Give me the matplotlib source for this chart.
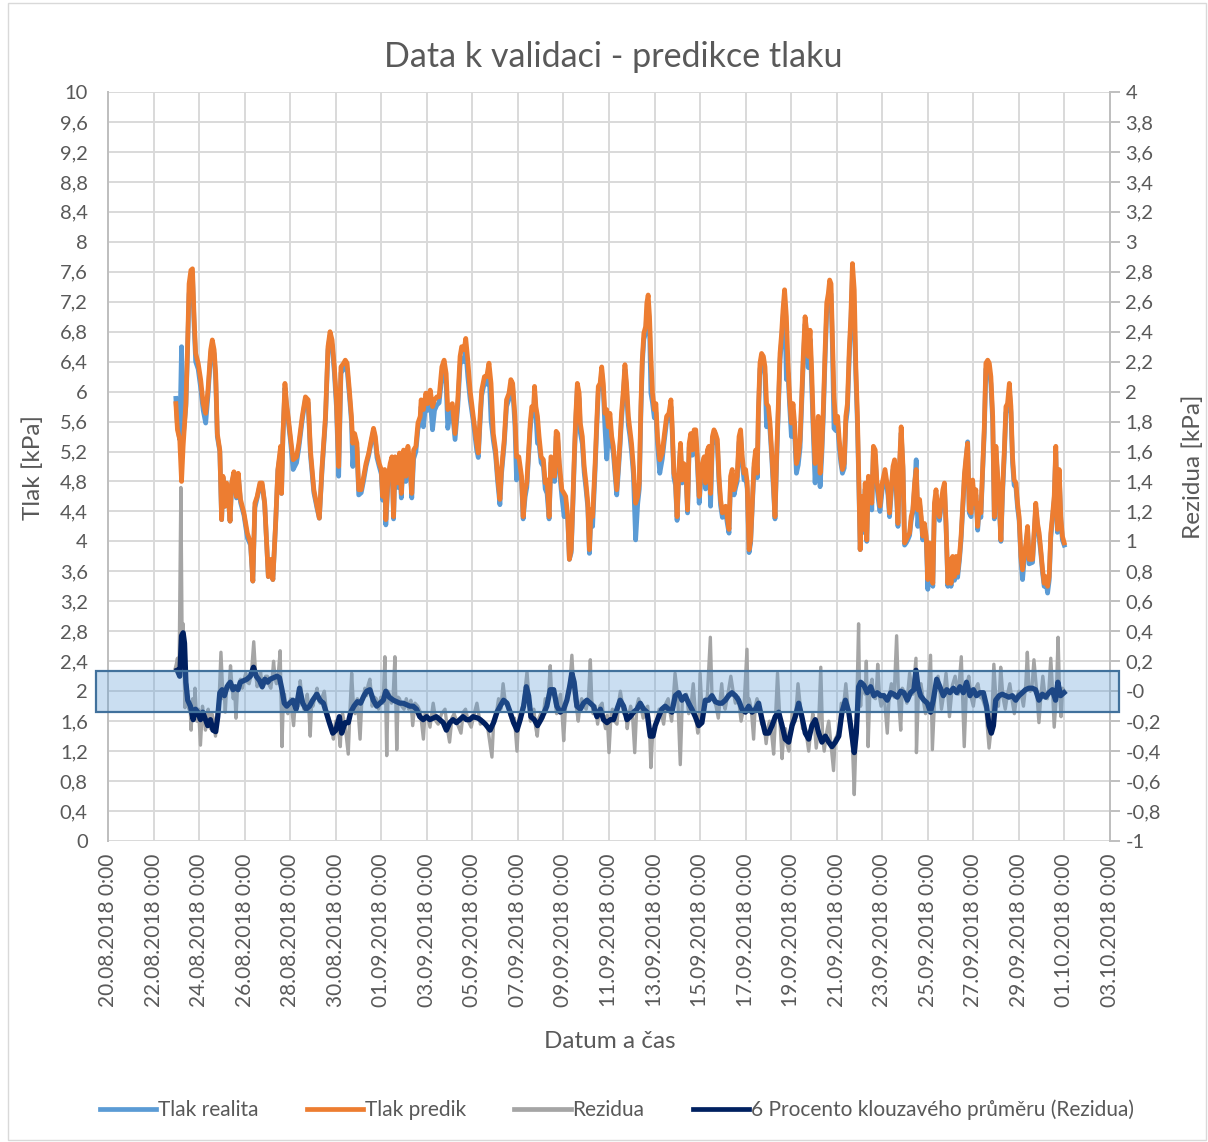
import numpy as np
import pandas as pd
import matplotlib
matplotlib.use("Agg")
import matplotlib.pyplot as plt
from matplotlib.patches import Rectangle
from matplotlib.lines import Line2D

plt.rcParams['font.family'] = ['Lato', 'DejaVu Sans']

START = pd.Timestamp('2018-08-20')

# cas ve dnech od 20.08.2018 0:00
dny_tlak = [
    2.98, 3.05, 3.15, 3.23, 3.30, 3.42, 3.49, 3.56, 3.64, 3.71, 3.78, 3.85, 3.96, 4.07, 4.18, 4.29,
    4.39, 4.51, 4.58, 4.66, 4.73, 4.80, 4.91, 4.99, 5.05, 5.14, 5.21, 5.28, 5.36, 5.43, 5.53, 5.64,
    5.72, 5.82, 5.97, 6.12, 6.26, 6.36, 6.45, 6.55, 6.67, 6.77, 6.88, 6.96, 7.04, 7.14, 7.24, 7.36,
    7.46, 7.58, 7.62, 7.68, 7.77, 7.84, 7.91, 8.01, 8.13, 8.28, 8.38, 8.53, 8.67, 8.79, 8.89, 9.04,
    9.18, 9.28, 9.40, 9.55, 9.66, 9.75, 9.84, 9.94, 10.03, 10.13, 10.23, 10.35,
    10.42, 10.50, 10.60, 10.69, 10.75, 10.83, 10.93, 11.01, 11.12, 11.23, 11.33, 11.45, 11.56, 11.66,
    11.74, 11.81, 11.91, 12.00, 12.06, 12.15, 12.20, 12.29, 12.39, 12.47, 12.54, 12.61, 12.72, 12.80,
    12.88, 12.98, 13.08, 13.17, 13.27, 13.34, 13.42, 13.52, 13.61, 13.71, 13.75, 13.85, 13.96, 14.04,
    14.15, 14.25, 14.34, 14.44, 14.54, 14.66, 14.76, 14.85, 14.92, 15.02, 15.12, 15.24, 15.36, 15.46,
    15.53, 15.64, 15.71, 15.80, 15.90, 16.04, 16.19, 16.26, 16.34, 16.41, 16.53, 16.63, 16.73, 16.82,
    16.92, 17.02, 17.11, 17.21, 17.28, 17.40, 17.50, 17.61, 17.69, 17.77, 17.87, 17.94, 18.04, 18.16,
    18.23,
    18.32, 18.39, 18.47, 18.54, 18.61, 18.69, 18.73, 18.79, 18.86, 18.93, 19.02, 19.12, 19.20, 19.28,
    19.37, 19.45, 19.52, 19.61, 19.68, 19.75, 19.82, 19.93, 20.03, 20.10, 20.19, 20.26, 20.34, 20.41,
    20.48, 20.54, 20.61, 20.69, 20.74, 20.83, 20.91, 20.99, 21.07, 21.14, 21.21, 21.28, 21.39, 21.46,
    21.53, 21.61, 21.68, 21.75, 21.82, 21.90, 21.97, 22.04, 22.12, 22.19, 22.26, 22.34, 22.41, 22.48,
    22.55, 22.63, 22.70, 22.77, 22.85, 22.92, 22.99, 23.07, 23.17, 23.26, 23.33, 23.40, 23.46, 23.53,
    23.61, 23.66, 23.72, 23.78, 23.84, 23.91, 23.99, 24.06, 24.13, 24.23, 24.34, 24.42, 24.53, 24.63,
    24.72, 24.77, 24.85, 24.92, 24.99, 25.07, 25.14, 25.21, 25.28, 25.37, 25.45, 25.52, 25.59, 25.66,
    25.74, 25.81, 25.88, 25.96, 26.06, 26.18,
    26.24, 26.32, 26.39, 26.46, 26.54, 26.61, 26.68, 26.76, 26.83, 26.90, 26.98, 27.05, 27.12, 27.19,
    27.27, 27.34, 27.41, 27.49, 27.56, 27.63, 27.71, 27.78, 27.85, 27.93, 28.00, 28.07, 28.15, 28.22,
    28.29, 28.37, 28.44, 28.51, 28.56, 28.63, 28.70, 28.78, 28.85, 28.92, 29.00, 29.07, 29.14, 29.22,
    29.29, 29.36, 29.43, 29.51, 29.58, 29.64, 29.71, 29.79, 29.86, 29.93, 30.01, 30.08, 30.15, 30.23,
    30.31, 30.39, 30.46, 30.53, 30.61, 30.68, 30.75, 30.83, 30.90, 30.97, 31.05, 31.12, 31.19, 31.27,
    31.34, 31.41, 31.49, 31.56, 31.63, 31.69, 31.75, 31.81, 31.88, 31.96, 32.04, 32.11, 32.18, 32.25,
    32.33, 32.40, 32.47, 32.55, 32.62, 32.69, 32.77, 32.84, 32.91, 32.98, 33.03, 33.10, 33.17, 33.25,
    33.32, 33.39, 33.47, 33.54, 33.61, 33.69, 33.76, 33.83, 33.90, 34.00, 34.12,
    34.25, 34.32, 34.39, 34.47, 34.54, 34.61, 34.69, 34.76, 34.83, 34.91, 34.98, 35.05, 35.12, 35.20,
    35.27, 35.34, 35.42, 35.49, 35.56, 35.64, 35.71, 35.78, 35.85, 35.93, 36.00, 36.07, 36.15, 36.22,
    36.29, 36.36, 36.44, 36.51, 36.58, 36.66, 36.73, 36.80, 36.88, 36.95, 37.02, 37.09, 37.17, 37.24,
    37.31, 37.39, 37.46, 37.53, 37.61, 37.68, 37.75, 37.82, 37.90, 37.97, 38.04, 38.11, 38.19, 38.26,
    38.33, 38.41, 38.48, 38.55, 38.63, 38.70, 38.77, 38.85, 38.92, 38.99, 39.07, 39.14, 39.21, 39.28,
    39.36, 39.43, 39.50, 39.58, 39.65, 39.72, 39.79, 39.87, 39.94, 40.01, 40.09, 40.16, 40.23, 40.31,
    40.38, 40.45, 40.60, 40.74, 40.82, 40.89, 40.96, 41.04, 41.11, 41.18, 41.26, 41.33, 41.40, 41.47,
    41.55, 41.62, 41.69, 41.77, 41.84, 41.91, 41.99,
]

tlak_predik = [
    5.84, 5.49, 5.36, 4.80, 5.27, 5.84, 6.56, 7.44, 7.62, 7.64, 7.00, 6.51, 6.38, 6.16, 5.84, 5.71,
    6.02, 6.56, 6.69, 6.56, 6.24, 5.44, 5.22, 4.29, 4.87, 4.47, 4.78, 4.60, 4.27, 4.78, 4.93, 4.60,
    4.91, 4.56, 4.38, 4.11, 3.98, 3.47, 4.51, 4.60, 4.78, 4.78, 4.51, 4.02, 3.53, 3.76, 3.49, 4.24,
    4.96, 5.27, 4.64, 5.40, 6.11, 5.84, 5.67, 5.40, 5.09, 5.13, 5.31, 5.67, 5.93, 5.89, 5.22, 4.69,
    4.47, 4.31, 5.00, 5.67, 6.60, 6.80, 6.69, 6.33, 5.89, 5.00, 6.33, 6.38,
    6.42, 6.38, 6.02, 5.67, 5.31, 5.44, 5.31, 4.69, 4.69, 4.87, 5.04, 5.18, 5.36, 5.51,
    5.40, 5.18, 5.04, 4.96, 4.60, 4.96, 4.29, 4.82, 5.04, 5.13, 4.33, 5.13, 4.78, 5.18,
    4.64, 5.22, 4.87, 5.27, 5.00, 4.64, 5.22, 5.27, 5.58, 5.67, 5.89, 5.76, 5.98, 5.84,
    6.02, 5.80, 5.89, 5.93, 5.93, 6.33, 6.42, 6.24, 5.76, 5.80, 5.84, 5.44, 5.89, 6.47,
    6.60, 6.56, 6.71, 6.42, 6.02, 5.67, 5.31, 5.18, 5.67, 6.02, 6.20, 6.20, 6.38, 6.11,
    5.44, 5.22, 4.87, 4.56, 4.96, 5.36, 5.89, 5.98, 6.16, 6.11, 5.67, 5.13, 5.13, 4.87,
    4.33,
    4.69, 4.78, 5.22, 5.58, 5.80, 5.76, 6.07, 5.80, 5.67, 5.40, 5.13, 5.09, 4.78, 4.82,
    4.33, 5.13, 5.09, 4.87, 5.47, 5.44, 5.04, 4.69, 4.64, 4.60, 4.33, 3.76, 3.89, 4.51,
    5.18, 5.67, 6.11, 5.98, 5.58, 5.40, 5.00, 4.78, 4.51, 3.89, 4.42, 4.33, 5.04, 5.58,
    6.07, 6.11, 6.33, 6.11, 5.71, 5.76, 5.53, 5.71, 5.40, 5.27, 5.00, 4.69, 5.00, 5.31,
    5.71, 6.02, 6.36, 6.11, 5.67, 5.49, 5.31, 5.00, 4.51, 4.60, 4.78, 5.80, 6.42, 6.78,
    6.87, 7.18, 7.29, 7.00, 6.47, 5.98, 5.76, 5.84, 5.40, 5.09, 5.18, 5.40, 5.67, 5.71,
    5.89, 5.58, 4.91, 4.82, 4.33, 4.96, 5.31, 4.82, 5.04, 5.00, 4.42, 5.31, 5.44, 5.22,
    5.49, 5.49, 5.13, 4.60, 5.00, 5.13,
    4.78, 5.22, 5.27, 4.64, 5.40, 5.49, 5.44, 5.36, 4.87, 4.56, 4.38, 4.42, 4.47, 4.33,
    4.16, 4.87, 4.96, 4.69, 4.78, 4.87, 5.40, 5.49, 5.13, 4.91, 4.96, 4.78, 3.89, 4.02,
    4.51, 5.04, 5.22, 4.91, 5.76, 6.38, 6.51, 6.47, 6.33, 5.84, 5.80, 5.58, 5.22, 4.78,
    4.33, 5.13, 5.76, 6.51, 6.78, 7.09, 7.36, 7.00, 6.38, 5.93, 5.58, 5.84, 5.58, 5.04,
    5.13, 5.36, 5.93, 6.47, 7.00, 6.82, 6.47, 6.82, 6.29, 5.58, 5.04, 5.40, 5.67, 4.91,
    5.22, 5.76, 6.56, 7.18, 7.31, 7.49, 7.44, 6.73, 5.93, 5.58, 5.67, 5.36, 5.13, 4.96,
    5.04, 5.67, 5.84, 6.56, 7.00, 7.71, 7.36, 6.33, 5.67, 4.69, 3.89, 4.60, 4.16, 4.78,
    4.02, 4.87, 4.78, 4.51, 5.27, 5.22, 4.82, 4.64, 4.47, 4.78, 4.96,
    4.69, 4.38, 4.69, 5.00, 5.09, 4.78, 4.24, 5.04, 5.53, 5.00, 3.98, 4.02, 4.07, 4.11,
    4.33, 4.42, 4.78, 4.96, 4.42, 4.56, 4.33, 4.07, 4.24, 4.07, 3.49, 3.98, 3.62, 3.44,
    4.51, 4.69, 4.42, 4.33, 4.51, 4.69, 4.78, 4.24, 3.44, 3.76, 3.44, 3.80, 3.53, 3.80,
    3.58, 3.80, 4.07, 4.47, 4.91, 5.13, 5.31, 4.42, 4.38, 4.82, 4.51, 4.69, 4.20, 4.51,
    4.38, 5.00, 5.53, 6.38, 6.42, 6.38, 6.20, 5.67, 4.33, 5.27, 4.87, 4.51, 4.02, 4.69,
    5.22, 5.80, 5.84, 6.11, 5.80, 5.13, 4.82, 4.78, 4.51, 4.33, 3.80, 3.62, 3.80, 3.98,
    4.20, 3.76, 3.76, 4.51, 4.24, 4.11, 3.89, 3.62, 3.44, 3.53, 3.40, 3.53, 4.11, 4.33,
    4.60, 5.27, 4.16, 4.96, 4.33, 4.07, 3.98,
]

tlak_realita = [
    5.91, 5.55, 5.36, 6.60, 5.40, 5.80, 6.50, 7.30, 7.50, 7.55, 6.90, 6.40, 6.30, 6.05, 5.75, 5.58,
    5.95, 6.50, 6.62, 6.50, 6.15, 5.40, 5.20, 4.29, 4.85, 4.47, 4.76, 4.60, 4.27, 4.76, 4.90, 4.58,
    4.88, 4.52, 4.35, 4.05, 3.95, 3.47, 4.45, 4.58, 4.75, 4.75, 4.50, 4.00, 3.53, 3.70, 3.49, 4.22,
    4.95, 5.20, 4.64, 5.38, 6.05, 5.80, 5.62, 5.35, 4.96, 5.05, 5.25, 5.62, 5.90, 5.85, 5.15, 4.65,
    4.44, 4.31, 4.95, 5.62, 6.55, 6.75, 6.62, 6.25, 5.80, 4.87, 6.25, 6.30,
    6.35, 6.30, 5.95, 5.60, 5.00, 5.35, 5.25, 4.62, 4.65, 4.82, 5.00, 5.15, 5.32, 5.48,
    5.35, 5.12, 5.00, 4.90, 4.55, 4.90, 4.22, 4.75, 5.00, 5.08, 4.30, 5.05, 4.72, 5.12,
    4.58, 5.15, 4.80, 5.20, 4.95, 4.58, 5.10, 5.20, 5.50, 5.60, 5.80, 5.53, 5.85, 5.75,
    5.90, 5.49, 5.75, 5.82, 5.85, 6.20, 6.30, 6.10, 5.51, 5.70, 5.75, 5.36, 5.80, 6.35,
    6.45, 6.40, 6.55, 6.20, 5.90, 5.60, 5.22, 5.12, 5.60, 5.95, 6.12, 6.10, 6.30, 5.62,
    5.35, 5.15, 4.80, 4.49, 4.90, 5.30, 5.80, 5.90, 6.10, 6.05, 5.55, 4.82, 5.05, 4.80,
    4.30,
    4.60, 4.72, 5.15, 5.50, 5.72, 5.68, 6.00, 5.70, 5.31, 5.30, 5.05, 5.00, 4.70, 4.64,
    4.30, 5.05, 5.02, 4.80, 5.40, 5.35, 4.95, 4.60, 4.33, 4.52, 4.28, 3.76, 3.85, 4.45,
    5.10, 5.60, 6.05, 5.90, 5.45, 5.30, 4.92, 4.70, 4.45, 3.84, 4.35, 4.20, 4.95, 5.50,
    6.00, 6.05, 6.25, 6.02, 5.53, 5.10, 5.40, 5.60, 5.30, 5.18, 4.92, 4.62, 4.92, 5.25,
    5.62, 5.95, 6.30, 6.02, 5.55, 5.40, 5.20, 4.90, 4.02, 4.50, 4.70, 5.70, 6.35, 6.70,
    6.78, 7.05, 7.15, 6.85, 5.98, 5.85, 5.65, 5.72, 5.30, 4.91, 5.10, 5.32, 5.60, 5.62,
    5.80, 5.50, 4.85, 4.75, 4.28, 4.90, 5.25, 4.78, 4.98, 4.95, 4.38, 5.25, 5.38, 5.15,
    5.40, 5.40, 5.05, 4.51, 4.92, 5.05,
    4.70, 5.15, 5.20, 4.47, 5.32, 5.40, 5.38, 5.28, 4.80, 4.48, 4.32, 4.35, 4.40, 4.25,
    4.11, 4.80, 4.90, 4.62, 4.72, 4.80, 5.32, 5.42, 5.05, 4.82, 4.88, 4.70, 3.85, 3.98,
    4.45, 4.98, 5.15, 4.85, 5.68, 6.30, 6.42, 6.38, 6.22, 5.53, 5.70, 5.48, 5.15, 4.70,
    4.30, 5.05, 5.68, 6.42, 6.68, 6.98, 7.25, 6.16, 6.25, 5.82, 5.40, 5.72, 5.45, 4.91,
    5.02, 5.25, 5.82, 6.38, 6.90, 6.70, 6.32, 6.70, 6.10, 5.45, 4.78, 5.28, 5.55, 4.73,
    5.12, 5.65, 6.45, 7.05, 7.20, 7.35, 7.30, 6.60, 5.51, 5.48, 5.55, 5.25, 5.05, 4.91,
    4.98, 5.58, 5.75, 6.45, 6.90, 7.55, 7.00, 6.20, 5.55, 4.62, 3.89, 4.52, 4.12, 4.70,
    4.00, 4.80, 4.72, 4.42, 5.20, 5.15, 4.75, 4.55, 4.40, 4.70, 4.90,
    4.62, 4.33, 4.62, 4.95, 5.02, 4.70, 4.20, 4.98, 5.45, 4.95, 3.95, 3.98, 4.02, 4.08,
    4.28, 4.38, 4.72, 5.09, 4.20, 4.50, 4.28, 4.02, 4.18, 4.02, 3.36, 3.92, 3.58, 3.40,
    4.45, 4.62, 4.36, 4.28, 4.45, 4.62, 4.72, 4.20, 3.40, 3.70, 3.40, 3.75, 3.48, 3.75,
    3.52, 3.75, 4.02, 4.40, 4.85, 5.08, 5.33, 4.38, 4.33, 4.75, 4.45, 4.62, 4.15, 4.45,
    4.32, 4.95, 5.45, 6.30, 6.35, 6.30, 6.10, 5.58, 4.30, 5.20, 4.80, 4.45, 4.00, 4.62,
    5.15, 5.72, 5.75, 6.02, 5.72, 5.05, 4.75, 4.72, 4.45, 4.28, 3.75, 3.49, 3.75, 3.92,
    4.15, 3.70, 3.72, 4.45, 4.20, 4.05, 3.85, 3.58, 3.40, 3.48, 3.31, 3.48, 4.05, 4.28,
    4.55, 5.20, 4.12, 4.90, 4.28, 4.02, 3.95,
]

dny_rez = [
    2.95, 3.00, 3.05, 3.08, 3.12, 3.20, 3.26, 3.30, 3.38, 3.45, 3.50, 3.55, 3.60, 3.65, 3.72, 3.78,
    3.82, 3.90, 3.98, 4.06, 4.15, 4.22, 4.28, 4.34, 4.40, 4.45, 4.50, 4.56, 4.62, 4.67, 4.72, 4.80,
    4.88, 4.96, 5.05, 5.10, 5.15, 5.20, 5.25, 5.31, 5.38, 5.44, 5.50, 5.56, 5.62, 5.68, 5.75, 5.82,
    5.90, 5.98, 6.05, 6.12, 6.20, 6.30, 6.40, 6.48, 6.55, 6.62, 6.70, 6.78, 6.85, 6.92, 7.00, 7.08,
    7.15, 7.22, 7.27, 7.34, 7.40, 7.48, 7.56, 7.64, 7.70, 7.75, 7.82, 7.90, 8.02, 8.15, 8.22, 8.30,
    8.37, 8.44, 8.52, 8.60, 8.68, 8.75, 8.82, 8.88, 8.94, 9.00, 9.10, 9.18, 9.25, 9.32, 9.40, 9.50,
    9.58, 9.65, 9.78, 9.90, 9.95, 10.00, 10.10, 10.20, 10.25, 10.30, 10.42, 10.55, 10.62, 10.70, 10.78,
    10.85, 10.95, 11.07, 11.14, 11.20, 11.28, 11.35, 11.42, 11.50, 11.55, 11.60, 11.70, 11.78, 11.88,
    11.98, 12.08, 12.16, 12.24, 12.30, 12.35, 12.45, 12.52, 12.60, 12.68, 12.74, 12.80, 12.90, 13.00,
    13.10, 13.20, 13.30, 13.38, 13.48, 13.60, 13.72, 13.85, 13.92, 14.00, 14.14, 14.28, 14.40, 14.50,
    14.65, 14.80, 14.90, 15.00, 15.10, 15.20, 15.35, 15.50, 15.60, 15.70, 15.82, 15.95, 16.08, 16.20,
    16.35, 16.50, 16.68, 16.86, 16.93, 17.00, 17.08, 17.15, 17.25, 17.35, 17.45, 17.55, 17.65, 17.75,
    17.85, 17.96, 18.02, 18.10, 18.25, 18.40, 18.48, 18.55, 18.62, 18.70, 18.78, 18.85, 18.92, 19.00,
    19.10, 19.20, 19.32, 19.42, 19.48, 19.55, 19.62, 19.70, 19.78, 19.87, 19.94, 20.01, 20.10, 20.20,
    20.28, 20.37, 20.44, 20.50, 20.58, 20.65, 20.72, 20.80, 20.90, 21.00, 21.10, 21.18, 21.24, 21.30,
    21.40, 21.50, 21.60, 21.70, 21.78, 21.85, 21.92, 22.00, 22.08, 22.15, 22.25, 22.35, 22.42, 22.50,
    22.58, 22.65, 22.72, 22.80, 22.88, 22.95, 23.04, 23.13, 23.22, 23.30, 23.40, 23.50, 23.60, 23.70,
    23.77, 23.84, 23.92, 24.00, 24.10, 24.20, 24.30, 24.40, 24.50, 24.60, 24.68, 24.75, 24.82, 24.90,
    25.02, 25.13, 25.22, 25.30, 25.40, 25.50, 25.60, 25.70, 25.80, 25.90, 25.95, 26.00, 26.10, 26.20,
    26.32, 26.45, 26.52, 26.60, 26.70, 26.80, 26.88, 26.95, 27.02, 27.10, 27.22, 27.35, 27.45, 27.55,
    27.68, 27.80, 27.93, 28.06, 28.10, 28.15, 28.25, 28.35, 28.42, 28.50, 28.60, 28.70, 28.80, 28.90,
    28.98, 29.05, 29.14, 29.23, 29.32, 29.40, 29.50, 29.60, 29.68, 29.75, 29.82, 29.90, 29.98, 30.05,
    30.18, 30.30, 30.40, 30.50, 30.64, 30.77, 30.86, 30.95, 31.02, 31.10, 31.20, 31.30, 31.38, 31.45,
    31.55, 31.65, 31.75, 31.86, 31.93, 32.00, 32.10, 32.20, 32.30, 32.40, 32.48, 32.55, 32.62, 32.70,
    32.77, 32.86, 32.96, 33.00, 33.05, 33.12, 33.20, 33.25, 33.30, 33.38, 33.46, 33.55, 33.62, 33.70,
    33.75, 33.80, 33.88, 33.95, 34.08, 34.22, 34.30, 34.40, 34.52, 34.63, 34.72, 34.81, 34.88, 34.95,
    35.08, 35.20, 35.34, 35.48, 35.50, 35.60, 35.70, 35.80, 35.90, 36.00, 36.12, 36.20, 36.32, 36.45,
    36.52, 36.60, 36.70, 36.80, 36.88, 36.95, 37.08, 37.20, 37.34, 37.47, 37.60, 37.70, 37.80, 37.90,
    38.00, 38.10, 38.20, 38.30, 38.40, 38.55, 38.69, 38.80, 38.90, 39.00, 39.10, 39.15, 39.20, 39.30,
    39.40, 39.50, 39.60, 39.70, 39.80, 39.90, 40.00, 40.10, 40.20, 40.30, 40.37, 40.44, 40.50, 40.58,
    40.66, 40.78, 40.88, 40.96, 41.05, 41.15, 41.25, 41.32, 41.40, 41.48, 41.55, 41.64, 41.72, 41.78,
    41.85, 41.92, 42.00,
]

rezidua = [
    0.15, 0.18, 0.22, 0.15, 0.10, 1.36, 0.25, 0.45, -0.11, 0.05, -0.05, -0.12, -0.08, -0.26, -0.05, -0.15,
    0.02, -0.20, -0.12, -0.36, -0.10, -0.18, -0.26, -0.18, -0.12, -0.22, -0.25, -0.15, -0.18, -0.24, -0.30, -0.15,
    -0.05, 0.26, -0.05, 0.00, -0.14, 0.00, 0.05, 0.02, 0.17, 0.04, -0.05, 0.02, -0.18, 0.00, 0.05, 0.08,
    0.02, 0.08, 0.12, 0.06, 0.05, 0.12, 0.33, 0.12, 0.03, 0.08, 0.13, 0.02, 0.04, 0.10, 0.10, 0.04,
    0.02, 0.10, 0.20, 0.08, 0.05, 0.12, 0.27, -0.37, -0.05, -0.02, -0.12, -0.15, -0.05, -0.23, -0.08, -0.05,
    -0.10, 0.07, -0.05, -0.12, -0.08, -0.02, -0.12, -0.30, -0.08, -0.10, -0.03, 0.02, -0.06, -0.08, -0.04, 0.00,
    -0.12, -0.15, -0.22, -0.32, -0.25, -0.20, -0.22, -0.37, -0.20, -0.15, -0.24, -0.42, -0.15, 0.12, -0.10,
    -0.15, -0.05, -0.32, -0.08, -0.05, 0.02, -0.03, 0.04, 0.08, 0.00, -0.10, -0.04, -0.05, -0.12,
    -0.04, -0.08, 0.23, -0.43, 0.00, -0.02, -0.08, -0.03, 0.23, -0.39, -0.04, -0.05, -0.10, -0.12,
    -0.05, -0.12, -0.06, -0.23, -0.08, -0.10, -0.14, -0.32, -0.15, -0.15, -0.24, -0.08, -0.20, -0.22,
    -0.15, -0.12, -0.25, -0.34, -0.18, -0.15, -0.22, -0.28, -0.14, -0.12, -0.20, -0.24, -0.15, -0.08,
    -0.22, -0.20, -0.25, -0.44, -0.22, -0.20, -0.12, -0.05, -0.12, 0.05, -0.08, -0.10, -0.16, -0.20,
    -0.18, -0.40, -0.22, -0.15, -0.08, 0.13, -0.03, -0.20, -0.15, -0.12, -0.24, -0.30, -0.18, -0.15,
    -0.18, -0.05, -0.08, 0.17, -0.02, 0.00, -0.05, -0.15, -0.08, -0.02, -0.15, -0.33, -0.08, -0.02,
    0.05, 0.24, 0.05, -0.05, -0.12, -0.20, -0.10, -0.05, -0.10, -0.12, -0.04, 0.21, -0.05, -0.15,
    -0.10, -0.22, -0.10, -0.08, -0.20, -0.25, -0.16, -0.41, -0.18, -0.12, -0.20, -0.22, -0.08, 0.00,
    -0.08, -0.15, -0.12, -0.25, -0.15, -0.10, -0.18, -0.41, -0.10, -0.05, -0.10, -0.18, -0.12, -0.10,
    -0.22, -0.51, -0.28, -0.25, -0.20, -0.12, -0.15, -0.22, -0.08, -0.05, -0.14, -0.20, -0.06, 0.12,
    -0.04, -0.49, -0.06, -0.05, -0.02, -0.15, -0.10, 0.05, -0.16, -0.28, -0.20, 0.12, -0.18, -0.10,
    -0.03, 0.36, -0.02, -0.05, -0.10, -0.18, -0.06, 0.05, -0.08, -0.12, -0.02, 0.10, 0.00, -0.08,
    -0.04, -0.20, -0.10, 0.28, -0.08, -0.05, -0.12, -0.32, -0.10, -0.05, -0.10, -0.22, -0.20, -0.35,
    -0.24, -0.20, -0.28, -0.42, -0.15, 0.12, -0.18, -0.45, -0.28, -0.25, -0.36, -0.40, -0.26, -0.15,
    -0.20, 0.05, -0.10, -0.25, -0.26, -0.40, -0.26, -0.15, -0.22, -0.38, -0.24, 0.16, -0.30, -0.40,
    -0.28, -0.20, -0.36, -0.53, -0.32, -0.30, -0.26, -0.08, -0.10, 0.05, -0.08, -0.20, -0.26, -0.40,
    -0.69, -0.25, 0.45, 0.02, -0.10, 0.06, 0.05, -0.02, 0.20, -0.37, 0.02, 0.08, -0.04, -0.05,
    0.02, 0.18, -0.04, -0.10, -0.02, -0.28, -0.04, 0.05, -0.04, 0.37, -0.06, -0.26, 0.02, 0.00,
    -0.08, 0.12, -0.02, 0.22, -0.41, 0.04, 0.05, -0.06, -0.15, -0.06, 0.24, -0.39, 0.02, 0.10,
    0.02, -0.12, -0.02, 0.12, -0.02, -0.17, 0.04, 0.10, -0.02, 0.23, -0.37, 0.04, 0.10, -0.04,
    -0.10, 0.02, 0.05, -0.04, -0.05, -0.12, -0.38, -0.22, 0.18, -0.08, -0.10, 0.00, 0.16, -0.04,
    -0.12, -0.02, 0.05, -0.06, -0.15, -0.04, 0.00, -0.02, -0.10, 0.04, 0.26, 0.02, 0.00, 0.04,
    0.21, 0.00, -0.21, -0.04, 0.10, -0.04, -0.05, 0.02, 0.22, 0.00, -0.24, -0.04, 0.36, 0.02,
    -0.17, 0.02, 0.00,
]

dny_prumer = [
    3.04, 3.15, 3.23, 3.30, 3.36, 3.42, 3.50, 3.62, 3.74, 3.84, 3.94, 4.06, 4.16, 4.28, 4.38, 4.50,
    4.61, 4.73, 4.82, 4.91, 5.01, 5.11, 5.23, 5.37, 5.49, 5.59, 5.71, 5.81, 5.96, 6.10, 6.25, 6.39,
    6.51, 6.66, 6.77, 6.89, 7.01, 7.12, 7.27, 7.42, 7.53, 7.64, 7.74, 7.85, 7.97, 8.12, 8.26, 8.41,
    8.55, 8.70, 8.85, 8.99, 9.17, 9.31, 9.46, 9.58, 9.72, 9.87, 10.01, 10.16, 10.26, 10.41, 10.55,
    10.66, 10.80, 10.95, 11.09, 11.24, 11.36, 11.50, 11.65, 11.80, 11.94, 12.09, 12.20, 12.35, 12.53,
    12.67, 12.82, 12.96, 13.11, 13.26, 13.40, 13.55, 13.69, 13.84, 13.99, 14.13, 14.28, 14.42, 14.57,
    14.72, 14.86, 15.01, 15.15, 15.30, 15.45, 15.59, 15.74, 15.88, 16.03, 16.25,
    16.35, 16.57, 16.78, 16.93, 17.08, 17.22, 17.37, 17.52, 17.66, 17.81, 17.96, 18.10, 18.25, 18.37,
    18.47, 18.57, 18.72, 18.86, 19.01, 19.16, 19.27, 19.42, 19.57, 19.71, 19.86, 20.01, 20.15, 20.27,
    20.37, 20.47, 20.59, 20.74, 20.88, 21.03, 21.18, 21.32, 21.47, 21.62, 21.76, 21.91, 22.06, 22.20,
    22.35, 22.49, 22.64, 22.79, 22.93, 23.08, 23.23, 23.37, 23.52, 23.67, 23.81, 23.93, 24.03, 24.18,
    24.32, 24.47, 24.62, 24.76, 24.91, 25.06, 25.20, 25.35, 25.50, 25.64, 25.79, 25.94, 26.08, 26.23,
    26.38, 26.52, 26.67, 26.82, 26.96, 27.11, 27.25, 27.40, 27.55, 27.69, 27.84, 27.99, 28.13, 28.28,
    28.43, 28.57, 28.72, 28.86, 29.01, 29.16, 29.30, 29.45, 29.60, 29.74, 29.89, 30.04, 30.18, 30.33,
    30.47, 30.62, 30.77, 30.91, 31.06, 31.21, 31.35, 31.50, 31.65, 31.79, 31.94, 32.09, 32.23, 32.38,
    32.53, 32.67, 32.77, 32.86, 32.96,
    33.05, 33.19, 33.34, 33.49, 33.63, 33.78, 33.93, 34.07, 34.22, 34.37, 34.51, 34.66, 34.81, 34.95,
    35.10, 35.24, 35.39, 35.48, 35.57, 35.68, 35.83, 35.98, 36.12, 36.24, 36.39, 36.53, 36.68, 36.83,
    36.97, 37.12, 37.27, 37.41, 37.56, 37.70, 37.85, 38.00, 38.14, 38.29, 38.44, 38.58, 38.69, 38.79,
    38.88, 38.98, 39.13, 39.27, 39.42, 39.56, 39.71, 39.86, 40.00, 40.15, 40.29, 40.44, 40.59, 40.73,
    40.88, 41.03, 41.17, 41.32, 41.47, 41.61, 41.71, 41.83, 41.98,
]

klouzavy_prumer = [
    0.14, 0.10, 0.37, 0.39, 0.32, 0.06, -0.06, -0.10, -0.19, -0.12, -0.14, -0.19, -0.14, -0.19, -0.23, -0.19,
    -0.26, -0.27, -0.17, -0.01, 0.01, -0.03, 0.03, 0.06, 0.01, 0.03, 0.01, 0.06, 0.07, 0.08, 0.10, 0.16,
    0.10, 0.07, 0.03, 0.08, 0.06, 0.08, 0.09, 0.10, 0.09, 0.01, -0.08, -0.10, -0.08, -0.06, -0.12, 0.02,
    -0.08, -0.12, -0.10, -0.06, -0.02, -0.06, -0.08, -0.14, -0.21, -0.28, -0.26, -0.17, -0.28, -0.21, -0.21,
    -0.14, -0.10, -0.07, -0.08, -0.03, 0.00, 0.01, -0.06, -0.10, -0.08, -0.06, 0.00, -0.04, -0.06,
    -0.07, -0.08, -0.08, -0.09, -0.10, -0.10, -0.12, -0.17, -0.19, -0.17, -0.19, -0.18, -0.17, -0.19,
    -0.21, -0.26, -0.21, -0.19, -0.21, -0.19, -0.17, -0.19, -0.19, -0.17, -0.18,
    -0.19, -0.22, -0.26, -0.21, -0.14, -0.10, -0.06, -0.08, -0.14, -0.21, -0.26, -0.19, -0.10, 0.03,
    -0.03, -0.17, -0.19, -0.23, -0.19, -0.14, -0.10, 0.01, 0.01, -0.10, -0.14, -0.12, -0.06, 0.03,
    0.12, 0.06, -0.10, -0.12, -0.08, -0.06, -0.08, -0.10, -0.17, -0.12, -0.19, -0.21, -0.19, -0.19,
    -0.12, -0.06, -0.10, -0.19, -0.17, -0.14, -0.12, -0.08, -0.12, -0.14, -0.30, -0.30, -0.23, -0.17,
    -0.12, -0.10, -0.12, -0.14, -0.03, -0.01, -0.06, -0.03, -0.08, -0.12, -0.17, -0.23, -0.21, -0.06,
    -0.06, -0.03, -0.07, -0.08, -0.08, -0.06, -0.03, -0.01, -0.03, -0.06, -0.12, -0.14, -0.10, -0.14,
    -0.12, -0.08, -0.19, -0.28, -0.28, -0.23, -0.17, -0.14, -0.23, -0.32, -0.34, -0.23, -0.17, -0.08,
    -0.17, -0.28, -0.32, -0.23, -0.19, -0.28, -0.34, -0.30, -0.34, -0.37, -0.34, -0.30, -0.14, -0.06,
    -0.14, -0.30, -0.41, -0.28, 0.03,
    0.06, 0.04, -0.01, 0.03, -0.03, -0.01, -0.03, -0.03, -0.06, -0.01, -0.02, -0.04, 0.00, -0.01,
    -0.06, -0.01, 0.01, 0.14, 0.03, -0.03, -0.06, -0.08, -0.14, -0.06, 0.08, 0.03, -0.03, 0.01,
    -0.01, 0.02, -0.01, 0.03, -0.01, 0.06, -0.03, 0.01, -0.03, -0.01, -0.01, -0.10, -0.23, -0.28,
    -0.23, -0.06, -0.03, -0.02, -0.03, -0.04, -0.03, -0.06, -0.03, -0.01, 0.01, 0.02, 0.02, 0.01,
    -0.06, -0.02, -0.04, -0.01, 0.01, -0.06, 0.06, -0.03, -0.01,
]

# pasmo kolem nuly (obdelnik pres graf)
pasmo_dole = -0.14
pasmo_nahore = 0.135


def na_datum(dny):
    return START + pd.to_timedelta(np.array(dny), unit='D')


TEXT = '#595959'

fig = plt.figure(figsize=(12.08, 11.42), dpi=100)
ax = fig.add_axes([0.0894, 0.26357, 0.82947, 0.65586])
ax2 = ax.twinx()

ax.plot(na_datum(dny_tlak), tlak_realita, color='#5B9BD5', lw=3.4, solid_joinstyle='round')
ax.plot(na_datum(dny_tlak), tlak_predik, color='#ED7D31', lw=3.4, solid_joinstyle='round')
ax2.plot(na_datum(dny_rez), rezidua, color='#A5A5A5', lw=2.4)
ax2.plot(na_datum(dny_prumer), klouzavy_prumer, color='#002060', lw=3.8, solid_joinstyle='round')

x0 = START
x1 = START + pd.Timedelta(days=44)
ax.set_xlim(x0, x1)
ax.set_ylim(0, 10)
ax2.set_ylim(-1, 4)


def fmt(v):
    return '{:g}'.format(round(v, 1)).replace('.', ',')


lt = np.round(np.arange(0, 10.001, 0.4), 1)
ax.set_yticks(lt)
ax.set_yticklabels([fmt(v) for v in lt])
rt = np.round(np.arange(-1, 4.001, 0.2), 1)
ax2.set_yticks(rt)
ax2.set_yticklabels([fmt(v) for v in rt])

xt = pd.date_range(x0, x1, freq='2D')
ax.set_xticks(xt)
ax.set_xticklabels([f"{d:%d.%m.%Y} {d.hour}:{d:%M}" for d in xt], rotation=90)

ax.grid(True, color='#D9D9D9', lw=1.4)
ax.set_axisbelow(True)

for a in (ax, ax2):
    for s in ('top', 'bottom'):
        a.spines[s].set_visible(False)
    a.spines['left'].set_color('#BFBFBF')
    a.spines['right'].set_color('#BFBFBF')
    a.spines['left'].set_linewidth(1.4)
    a.spines['right'].set_linewidth(1.4)

ax.tick_params(axis='y', length=0, labelsize=14.5, labelcolor=TEXT, pad=14.5)
ax.tick_params(axis='x', length=0, labelsize=15, labelcolor=TEXT, pad=9)
ax2.tick_params(axis='y', length=7, color='#BFBFBF', width=1.4, labelsize=14.5, labelcolor=TEXT, pad=4)

# obdelnik - pasmo
ax2.add_patch(Rectangle(
    (x0 - pd.Timedelta(days=0.53), pasmo_dole),
    pd.Timedelta(days=44.93), pasmo_nahore - pasmo_dole,
    facecolor=(0.357, 0.608, 0.835, 0.32), edgecolor='#41719C', lw=1.6,
    clip_on=False, zorder=5))

fig.text(613 / 1208, 1 - 57 / 1142, 'Data k validaci - predikce tlaku',
         ha='center', va='center', fontsize=24.5, color=TEXT)
fig.text(33 / 1208, 1 - 467 / 1142, 'Tlak [kPa]', rotation=90,
         ha='center', va='center', fontsize=17.5, color=TEXT)
fig.text(1193 / 1208, 1 - 467 / 1142, 'Rezidua [kPa]', rotation=90,
         ha='center', va='center', fontsize=17.5, color=TEXT)
fig.text(610 / 1208, 1 - 1042 / 1142, 'Datum a čas',
         ha='center', va='center', fontsize=17.5, color=TEXT)

handles = [Line2D([], [], color=c, lw=3.4) for c in ('#5B9BD5', '#ED7D31', '#A5A5A5', '#002060')]
labels = ['Tlak realita', 'Tlak predik', 'Rezidua', '6 Procento klouzavého průměru (Rezidua)']
leg = fig.legend(handles, labels, loc='center', bbox_to_anchor=(617 / 1208, 1 - 1110 / 1142),
                 ncol=4, frameon=False, fontsize=15, handlelength=2.7, handletextpad=0.1,
                 columnspacing=2.3)
for t in leg.get_texts():
    t.set_color(TEXT)

fig.patches.append(Rectangle((0.0066, 0.002), 0.992, 0.995, transform=fig.transFigure,
                             fill=False, edgecolor='#D9D9D9', lw=1))

fig.savefig('out.png', dpi=100)
